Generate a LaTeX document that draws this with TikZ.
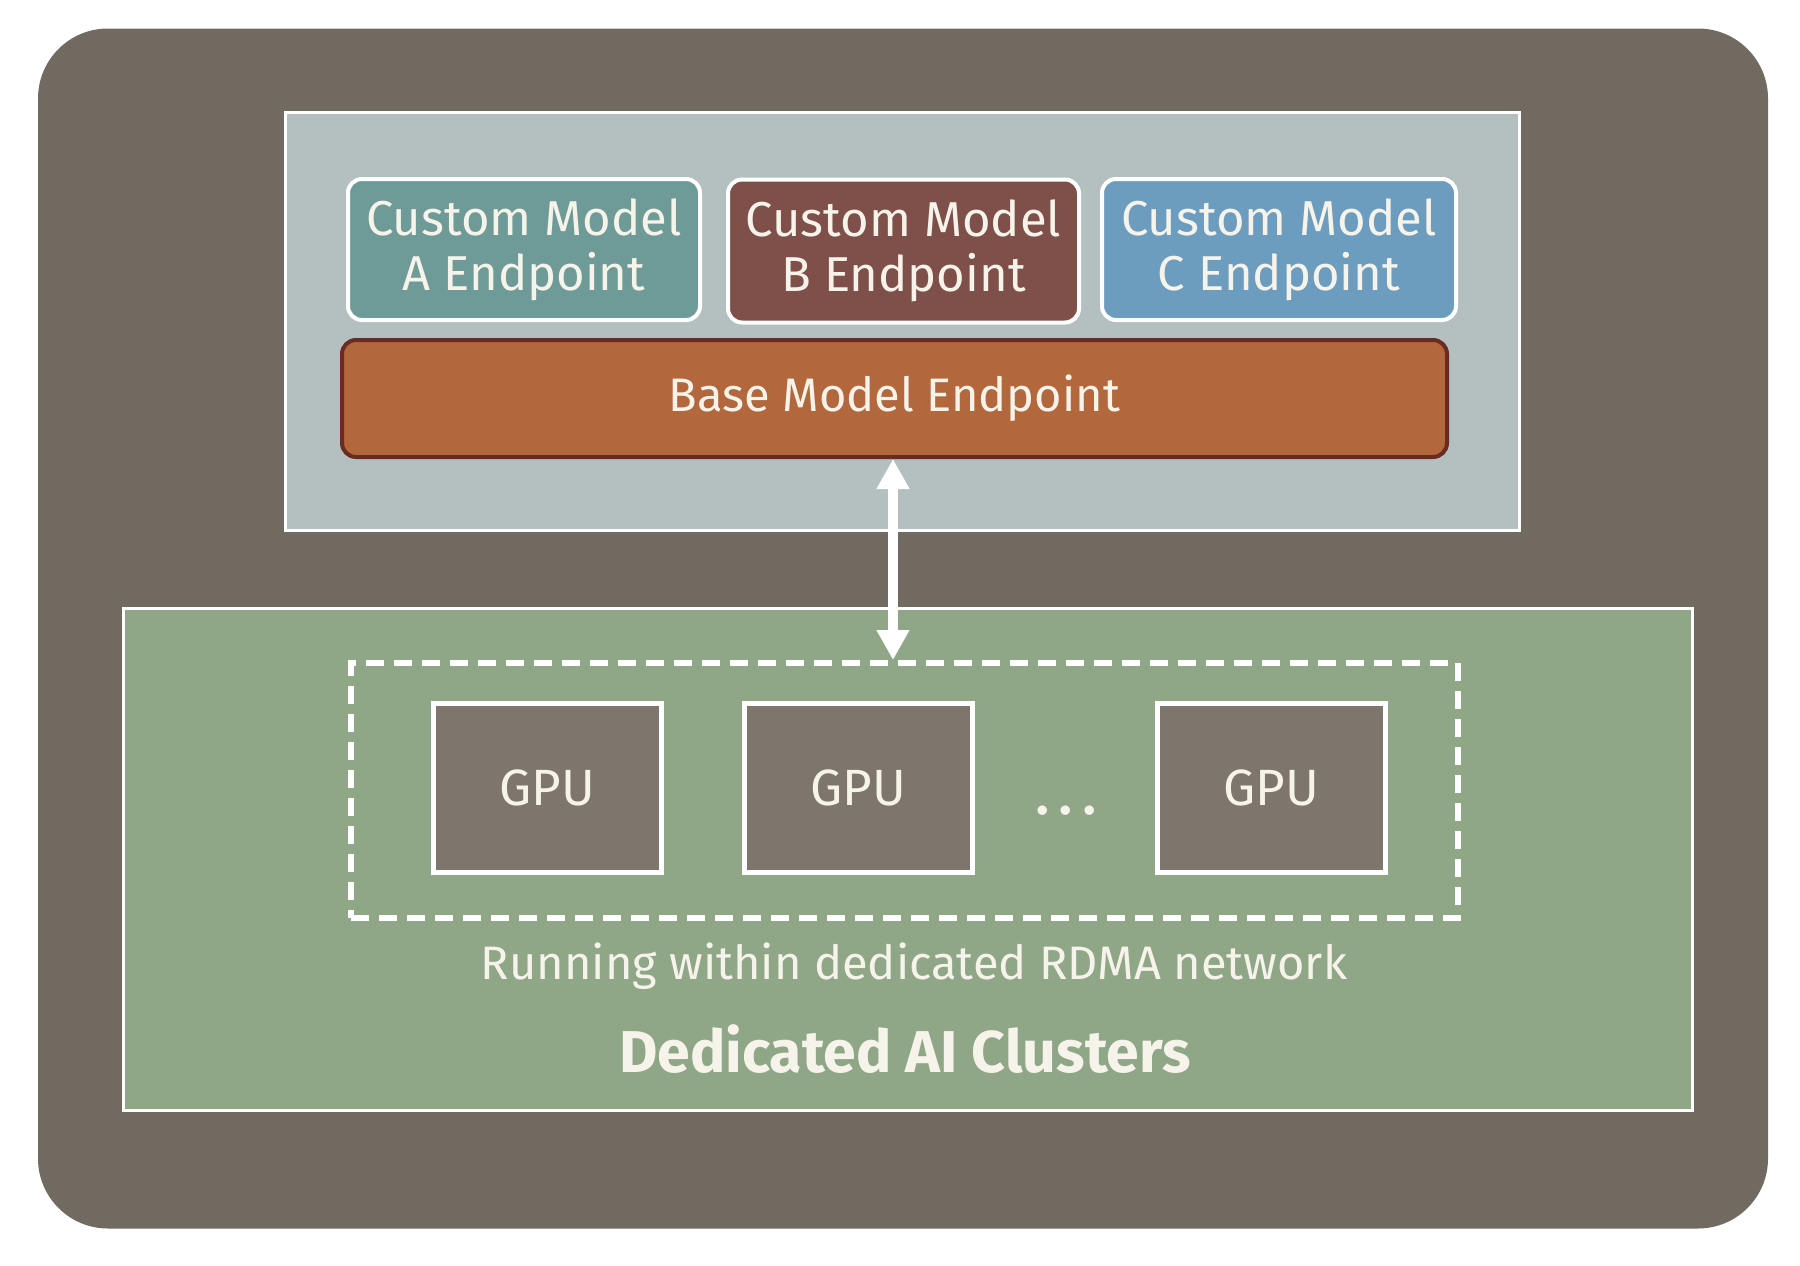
\documentclass[tikz,border=0pt]{standalone}
\usepackage{fontspec}
\setmainfont{Fira Sans}
\usetikzlibrary{arrows.meta}
\definecolor{outerbg}{RGB}{113,106,97}
\definecolor{upperbg}{RGB}{180,192,192}
\definecolor{greenbg}{RGB}{143,166,135}
\definecolor{cA}{RGB}{110,155,151}
\definecolor{cB}{RGB}{127,79,74}
\definecolor{cC}{RGB}{108,156,190}
\definecolor{basebg}{RGB}{178,103,60}
\definecolor{baseline}{RGB}{106,44,32}
\definecolor{gpubg}{RGB}{126,117,108}
\definecolor{txt}{RGB}{246,244,234}
\tikzset{
  panel/.style={draw=white, line width=3pt, inner sep=0pt},
  modelbox/.style={draw=white, line width=4pt, rounded corners=14pt, inner sep=0pt,
    minimum width=352pt, minimum height=141pt, text=txt, align=center,
    font=\fontsize{49}{55}\selectfont},
  gpubox/.style={draw=white, line width=5pt, fill=gpubg, inner sep=0pt,
    minimum width=228pt, minimum height=169pt, text=txt,
    font=\fontsize{51}{56}\selectfont},
  lbl/.style={text=txt, inner sep=0pt, anchor=base}
}
\begin{document}
\begin{tikzpicture}[x=1pt,y=-1pt]
\useasboundingbox[fill=white] (0,0) rectangle (1800,1266);
\node[fill=outerbg, rounded corners=70pt, inner sep=0pt, minimum width=1730pt, minimum height=1200pt] (outer) at (903,628.5) {};
\node[panel, fill=upperbg, minimum width=1234pt, minimum height=418pt] (upper) at (902,321) {};
\node[panel, fill=greenbg, minimum width=1569pt, minimum height=502pt] (lower) at (907.5,859) {};
\node[modelbox, fill=cA] (ma) at (524,249.5) {Custom Model\\A Endpoint};
\node[modelbox, fill=cB, minimum width=351pt, minimum height=143pt] (mb) at (903.5,251) {Custom Model\\B Endpoint};
\node[modelbox, fill=cC, minimum width=354pt] (mc) at (1279,249.5) {Custom Model\\C Endpoint};
\node[draw=baseline, line width=4pt, fill=basebg, rounded corners=14pt, inner sep=0pt,
  minimum width=1105pt, minimum height=117pt, text=txt, font=\fontsize{47}{53}\selectfont] (base) at (894.5,398.5) {Base Model Endpoint};
\node[draw=white, line width=6pt, dash pattern=on 18pt off 10pt, inner sep=0pt,
  minimum width=1107pt, minimum height=255pt] (cluster) at (904.5,790.5) {};
\node[gpubox] (g1) at (547,787.5) {GPU};
\node[gpubox] (g2) at (858.5,787.5) {GPU};
\node[gpubox] (g3) at (1271.5,787.5) {GPU};
\node[lbl, font=\fontsize{52}{58}\bfseries] (dots) at (1066,814) {.\hspace{11pt}.\hspace{11pt}.};
\node[lbl, font=\fontsize{47}{53}\selectfont] (rdma) at (914,979) {Running within dedicated RDMA network};
\node[lbl, font=\fontsize{59}{64}\bfseries] (title) at (905,1072) {Dedicated AI Clusters};
\draw[white, line width=10pt, {Triangle[length=30pt,width=31pt]}-{Triangle[length=30pt,width=31pt]}]
  (base.south) ++(-1.5,0) coordinate (a1) (a1) -- (a1 |- cluster.north) coordinate (a2);
\end{tikzpicture}
\end{document}
